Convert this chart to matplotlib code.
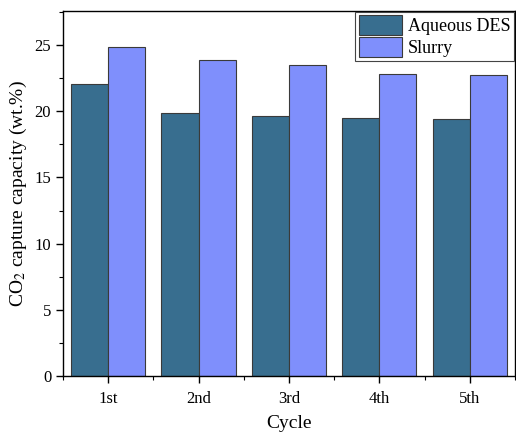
import numpy as np
from matplotlib import pyplot as plt
from matplotlib.ticker import MultipleLocator

plt.rcParams['font.family'] = ['Liberation Serif', 'DejaVu Serif']
plt.rcParams['mathtext.fontset'] = 'stix'

cycles = ['1st', '2nd', '3rd', '4th', '5th']
aqueous_des = [22.1, 19.85, 19.65, 19.5, 19.4]
slurry = [24.9, 23.85, 23.5, 22.85, 22.75]

fig = plt.figure(figsize=(5.16, 4.33), dpi=100)
ax = fig.add_axes([0.122, 0.132, 0.876, 0.843])

x = np.arange(1, len(cycles) + 1)
w = 0.41
ax.bar(x - w / 2, aqueous_des, w, color='#386E8F', edgecolor='#3a3a3a', linewidth=0.8, label='Aqueous DES')
ax.bar(x + w / 2, slurry, w, color='#7F8FFC', edgecolor='#3a3a3a', linewidth=0.8, label='Slurry')

ax.set_xlim(0.5, 5.5)
ax.set_ylim(0, 27.6)
ax.set_xticks(x)
ax.set_xticklabels(cycles)
ax.xaxis.set_minor_locator(MultipleLocator(0.5))
ax.yaxis.set_major_locator(MultipleLocator(5))
ax.yaxis.set_minor_locator(MultipleLocator(2.5))
ax.tick_params(which='major', direction='out', length=5, width=1, labelsize=12)
ax.tick_params(which='minor', direction='out', length=3, width=0.8)
ax.tick_params(axis='x', pad=6)
for s in ax.spines.values():
    s.set_linewidth(1.0)

ax.set_xlabel('Cycle', fontsize=14, labelpad=6)
ax.set_ylabel(r'CO$_2$ capture capacity (wt.%)', fontsize=14, labelpad=4)

leg = ax.legend(loc='upper right', fontsize=13, fancybox=False, edgecolor='#444444',
                framealpha=1, handlelength=2.4, handleheight=1.3, borderaxespad=0.05,
                handletextpad=0.3, labelspacing=0.1, borderpad=0.2)
leg.get_frame().set_linewidth(0.8)

fig.savefig('out.png', dpi=100)
